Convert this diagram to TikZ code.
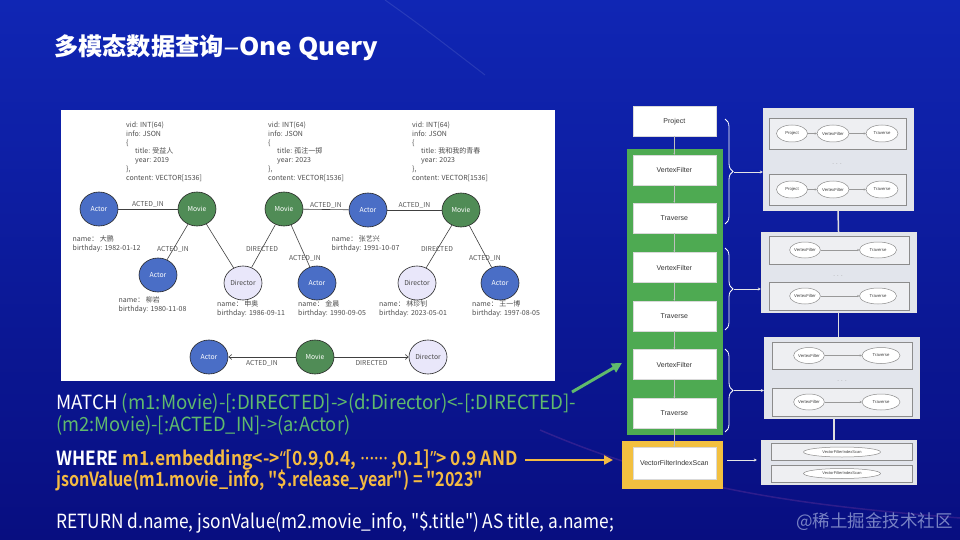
\documentclass[tikz,border=0pt]{standalone}
\usepackage{fontspec}
\setmainfont{Liberation Sans}
\newfontfamily\cjk{Noto Sans CJK SC}
\newfontfamily\tlat[FakeStretch=1.07]{Noto Sans CJK SC Bold}
\newfontfamily\tdash[FakeStretch=1.3]{Noto Sans}
\newfontfamily\qfont{Noto Sans CJK SC}
\newfontfamily\qbfont{Noto Sans CJK SC Bold}
\newfontfamily\qlat[FakeStretch=0.88]{Noto Sans}
\usetikzlibrary{positioning,shapes.geometric,arrows.meta,decorations.pathreplacing}

\definecolor{bgtop}{RGB}{16,38,180}
\definecolor{bgbot}{RGB}{8,14,128}
\definecolor{actorblue}{RGB}{74,110,198}
\definecolor{moviegreen}{RGB}{80,140,86}
\definecolor{dirlav}{RGB}{233,231,250}
\definecolor{qgreen}{RGB}{96,186,108}
\definecolor{qorange}{RGB}{244,186,66}
\definecolor{colgreen}{RGB}{78,170,82}
\definecolor{colyellow}{RGB}{242,192,64}
\definecolor{panelgrey}{RGB}{226,229,236}
\definecolor{rowgrey}{RGB}{238,239,242}
\definecolor{markgrey}{RGB}{120,130,196}

\tikzset{
	gnode/.style args = {#1}{ellipse, draw=black!85, fill=#1, line width=0.6pt,
		minimum width=38pt, minimum height=34pt, inner sep=0pt,
		font=\cjk\fontsize{6.8}{7}\selectfont},
	actor/.style = {gnode=actorblue, text=white},
	movie/.style = {gnode=moviegreen, text=white},
	director/.style = {gnode=dirlav, text=black!70},
	rel/.style = {font=\cjk\fontsize{6.8}{7}\selectfont, text=black!65, inner sep=1pt},
	props/.style = {anchor=north west, align=left, inner sep=0pt, text=black!70,
		font=\cjk\fontsize{7}{8.8}\selectfont},
	gedge/.style = {draw=black!75, line width=0.6pt},
	op/.style = {rectangle, fill=white, draw=black!15, minimum width=83pt, minimum height=30pt,
		inner sep=0pt, font=\fontsize{7}{8}\selectfont, text=black!80},
	opflow/.style = {draw=black!25, line width=0.5pt, -{Stealth[length=2pt,width=2pt]}},
	panel/.style = {rectangle, fill=panelgrey, draw=white!80!gray, inner sep=0pt},
	row/.style = {rectangle, fill=rowgrey, draw=black!45, line width=0.7pt, inner sep=0pt},
	stepnode/.style = {ellipse, fill=white, draw=black!45, line width=0.5pt, inner sep=0pt,
		minimum height=17pt, font=\fontsize{4.3}{5}\selectfont, text=black!75},
	stepflow/.style = {draw=black!40, line width=0.5pt, -{Stealth[length=2pt,width=2pt]}},
	dots/.style = {font=\fontsize{6}{6}\selectfont, text=black!40, inner sep=0pt},
	plink/.style = {draw=white!75!gray, line width=1.5pt},
	pbrace/.style = {draw=white, line width=0.8pt, decorate,
		decoration={brace, amplitude=8pt}},
	barrow/.style = {draw=white!80!gray, line width=0.7pt, -{Stealth[length=3pt,width=3pt]}},
	qline/.style = {anchor=west, inner sep=0pt, text height=14pt, text depth=4pt,
		font=\qfont\fontsize{19.5}{20}\selectfont\addfontfeature{FakeStretch=#1}},
	qline/.default = 0.9,
	qbold/.style = {qline=#1, font=\qbfont\fontsize{19.5}{20}\selectfont\addfontfeature{FakeStretch=#1}},
	qbold/.default = 0.86,
}

\begin{document}
\begin{tikzpicture}[x=1pt, y=-1pt]
	\useasboundingbox (0,0) rectangle (960,540);
	% background
	\shade[top color=bgtop, bottom color=bgbot] (0,0) rectangle (960,540);
	\draw[white, opacity=0.1, line width=1pt] (385,0) .. controls (420,25) .. (485,75);
	\draw[magenta!60!white, opacity=0.16, line width=1.5pt] (540,430) .. controls (680,490) and (800,505) .. (960,518);

	% title
	\node[anchor=west, text=white, inner sep=0pt, font=\cjk\bfseries\fontsize{24.2}{25}\selectfont]
		(title) at (54,48) {多模态数据查询{\tdash\bfseries –}{\tlat One Query}};

	% graph panel
	\node[fill=white, minimum width=494pt, minimum height=271pt, inner sep=0pt] (graphbg) at (308,245.5) {};

	\node[actor] (a1) at (99,209) {Actor};
	\node[movie] (m1) at (197,209) {Movie};
	\node[movie] (m2) at (284,209) {Movie};
	\node[actor] (a2) at (368,210) {Actor};
	\node[movie] (m3) at (461,210) {Movie};
	\node[actor] (a3) at (158,275) {Actor};
	\node[director] (d1) at (243,283) {Director};
	\node[actor] (a4) at (317,283) {Actor};
	\node[director] (d2) at (417,283) {Director};
	\node[actor] (a5) at (500,283) {Actor};
	\node[actor] (qa) at (209,357) {Actor};
	\node[movie] (qm) at (315,357) {Movie};
	\node[director] (qd) at (428,357) {Director};

	\draw[gedge] (a1) -- node[rel, above] {ACTED\_IN} (m1);
	\draw[gedge] (m2) -- node[rel, above] {ACTED\_IN} (a2);
	\draw[gedge] (a2) -- node[rel, above] {ACTED\_IN} (m3);
	\draw[gedge] (m1) -- (a3);
	\draw[gedge] (m1) -- (d1);
	\draw[gedge] (m2) -- (d1);
	\draw[gedge] (m2) -- (a4);
	\draw[gedge] (m3) -- (d2);
	\draw[gedge] (m3) -- (a5);
	\node[rel] (r1) at (173,249) {ACTED\_IN};
	\node[rel] (r2) at (262,249) {DIRECTED};
	\node[rel] (r3) at (305,258) {ACTED\_IN};
	\node[rel] (r4) at (437,249) {DIRECTED};
	\node[rel] (r5) at (485,258) {ACTED\_IN};

	\draw[gedge, -{Straight Barb[length=3pt,width=5pt]}] (qm) -- node[rel, below=2pt] {ACTED\_IN} (qa);
	\draw[gedge, -{Straight Barb[length=3pt,width=5pt]}] (qm) -- node[rel, below=2pt] {DIRECTED} (qd);

	% properties
	\node[props] (pm1) at (126,121.5) {vid: INT(64)\\info: JSON\\\{\\\hspace*{9pt}title: 受益人\\\hspace*{9pt}year: 2019\\\},\\content: VECTOR[1536]};
	\node[props] (pm2) at (268,121.5) {vid: INT(64)\\info: JSON\\\{\\\hspace*{9pt}title: 孤注一掷\\\hspace*{9pt}year: 2023\\\},\\content: VECTOR[1536]};
	\node[props] (pm3) at (412,121.5) {vid: INT(64)\\info: JSON\\\{\\\hspace*{9pt}title: 我和我的青春\\\hspace*{9pt}year: 2023\\\},\\content: VECTOR[1536]};
	\node[props] (pa1) at (72.5,235.5) {name： 大鹏\\birthday: 1982-01-12};
	\node[props] (pa2) at (331.5,235.5) {name： 张艺兴\\birthday: 1991-10-07};
	\node[props] (pa3) at (118.5,296.5) {name： 柳岩\\birthday: 1980-11-08};
	\node[props] (pd1) at (217,300.5) {name： 申奥\\birthday: 1986-09-11};
	\node[props] (pa4) at (298,300.5) {name： 金晨\\birthday: 1990-09-05};
	\node[props] (pd2) at (379,300.5) {name： 林珍钊\\birthday: 2023-05-01};
	\node[props] (pa5) at (472,300.5) {name： 王一博\\birthday: 1997-08-05};

	% query
	\node[qline=0.958] (match1) at (56,404) {\color{white}MATCH \color{qgreen}(m1:Movie)-[:DIRECTED]->(d:Director)<-[:DIRECTED]-};
	\node[qline=0.94] (match2) at (56,426) {\color{qgreen}(m2:Movie)-[:ACTED\_IN]->(a:Actor)};
	\node[qbold=0.894] (where1) at (56,460.5) {\color{white}WHERE \color{qorange}m1.embedding<->{\qlat\bfseries “}[0.9,0.4, {\qlat\bfseries ······} ,0.1]{\qlat\bfseries ”}> 0.9 AND};
	\node[qbold=0.83] (where2) at (56,481.5) {\color{qorange}jsonValue(m1.movie\_info, "\$.release\_year") = "2023"};
	\node[qline=0.887] (ret) at (56,523) {\color{white}RETURN d.name, jsonValue(m2.movie\_info, "\$.title") AS title, a.name;};

	% plan column
	\node[rectangle, fill=colgreen, minimum width=96pt, minimum height=286pt, inner sep=0pt] (gcol) at (675,292) {};
	\node[rectangle, fill=colyellow, minimum width=101pt, minimum height=48pt, inner sep=0pt] (ycol) at (672.5,465) {};
	\node[op] (project) at (674.3,121.3) {Project};
	\node[op] (vf1) at (674.3,170) {VertexFilter};
	\node[op] (tr1) at (674.3,218) {Traverse};
	\node[op] (vf2) at (674.3,267.5) {VertexFilter};
	\node[op] (tr2) at (674.3,316) {Traverse};
	\node[op] (vf3) at (674.3,364.5) {VertexFilter};
	\node[op] (tr3) at (674.3,413.5) {Traverse};
	\node[op, minimum height=32pt] (vfis) at (674.3,463) {VectorFilterIndexScan};
	\draw[opflow] (project) -- (vf1);
	\draw[opflow] (vf1) -- (tr1);
	\draw[opflow] (tr1) -- (vf2);
	\draw[opflow] (vf2) -- (tr2);
	\draw[opflow] (tr2) -- (vf3);
	\draw[opflow] (vf3) -- (tr3);
	\draw[opflow] (tr3) -- (vfis);

	% arrows from the query
	\coordinate (gtail) at (572,392);
	\coordinate (gtip) at (622,363);
	\coordinate (otail) at (525,460);
	\coordinate (otip) at (613,460);
	\draw[qgreen, line width=3pt, -{Triangle[length=10pt,width=10pt]}] (gtail) -- (gtip);
	\draw[qorange, line width=2.5pt, -{Triangle[length=9pt,width=9pt]}] (otail) -- (otip);

	% pipeline panels
	\node[panel, minimum width=150pt, minimum height=102pt] (p1) at (838,159) {};
	\node[panel, minimum width=155pt, minimum height=80pt] (p2) at (838.5,272) {};
	\node[panel, minimum width=155pt, minimum height=81pt] (p3) at (841.5,377.5) {};
	\node[panel, minimum width=155pt, minimum height=44pt] (p4) at (838.5,462) {};
	\draw[plink] (p1.south) -- (p2.north);
	\draw[plink] (p2.south) -- (p3.north -| p2.south);
	\draw[plink] (834,418) -- (834,440);

	\node[row, minimum width=137pt, minimum height=31pt] (p1a) at (837.5,133.5) {};
	\node[row, minimum width=137pt, minimum height=31pt] (p1b) at (837.5,189.5) {};
	\node[row, minimum width=140pt, minimum height=28pt] (p2a) at (839,250) {};
	\node[row, minimum width=140pt, minimum height=28pt] (p2b) at (839,296) {};
	\node[row, minimum width=140pt, minimum height=27pt] (p3a) at (842,355.5) {};
	\node[row, minimum width=140pt, minimum height=28pt] (p3b) at (842,402) {};
	\node[row, minimum width=141pt, minimum height=17pt] (p4a) at (841.5,451.5) {};
	\node[row, minimum width=141pt, minimum height=17pt] (p4b) at (841.5,473.5) {};

	\foreach \r/\y in {a/133.5, b/189.5} {
		\node[stepnode, minimum width=31pt] (p1\r pj) at (792,\y) {Project};
		\node[stepnode, minimum width=32pt] (p1\r vf) at (833,\y) {VertexFilter};
		\node[stepnode, minimum width=32pt] (p1\r tr) at (882,\y) {Traverse};
		\draw[stepflow] (p1\r pj) -- (p1\r vf);
		\draw[stepflow] (p1\r vf) -- (p1\r tr);
	}
	\foreach \r/\y in {a/250, b/296} {
		\node[stepnode, minimum width=30pt, minimum height=16pt] (p2\r vf) at (805,\y) {VertexFilter};
		\node[stepnode, minimum width=37pt, minimum height=16pt] (p2\r tr) at (878,\y) {Traverse};
		\draw[stepflow] (p2\r vf) -- (p2\r tr);
	}
	\foreach \r/\y in {a/355.5, b/402} {
		\node[stepnode, minimum width=30pt, minimum height=16pt] (p3\r vf) at (809,\y) {VertexFilter};
		\node[stepnode, minimum width=38pt, minimum height=16pt] (p3\r tr) at (881,\y) {Traverse};
		\draw[stepflow] (p3\r vf) -- (p3\r tr);
	}
	\node[stepnode, minimum width=77pt, minimum height=10pt, font=\fontsize{4}{4}\selectfont] (p4avs) at (842,452) {VectorFilterIndexScan};
	\node[stepnode, minimum width=77pt, minimum height=10pt, font=\fontsize{4}{4}\selectfont] (p4bvs) at (842,473.5) {VectorFilterIndexScan};

	\node[dots] (d1dots) at (837,164) {. . .};
	\node[dots] (d2dots) at (838,276) {. . .};
	\node[dots] (d3dots) at (842,381) {. . .};
	\node[dots] (d4dots) at (842,461) {. . .};

	% braces
	\draw[pbrace] (725,119) -- (725,224);
	\draw[pbrace] (725,248) -- (725,330);
	\draw[pbrace] (725,349) -- (725,432);
	\coordinate (b1) at (734,172);
	\coordinate (b2) at (734,289);
	\coordinate (b3) at (734,390.5);
	\coordinate (b4) at (727,460);
	\draw[barrow] (b1) -- (b1 -| p1.west);
	\draw[barrow] (b2) -- (b2 -| p2.west);
	\draw[barrow] (b3) -- (b3 -| p3.west);
	\draw[barrow] (b4) -- ([xshift=-4pt]b4 -| p4.west);

	% watermark
	\node[anchor=east, inner sep=0pt, text=markgrey, font=\cjk\fontsize{17.5}{18}\selectfont] (mark) at (953,522) {@稀土掘金技术社区};
\end{tikzpicture}
\end{document}
